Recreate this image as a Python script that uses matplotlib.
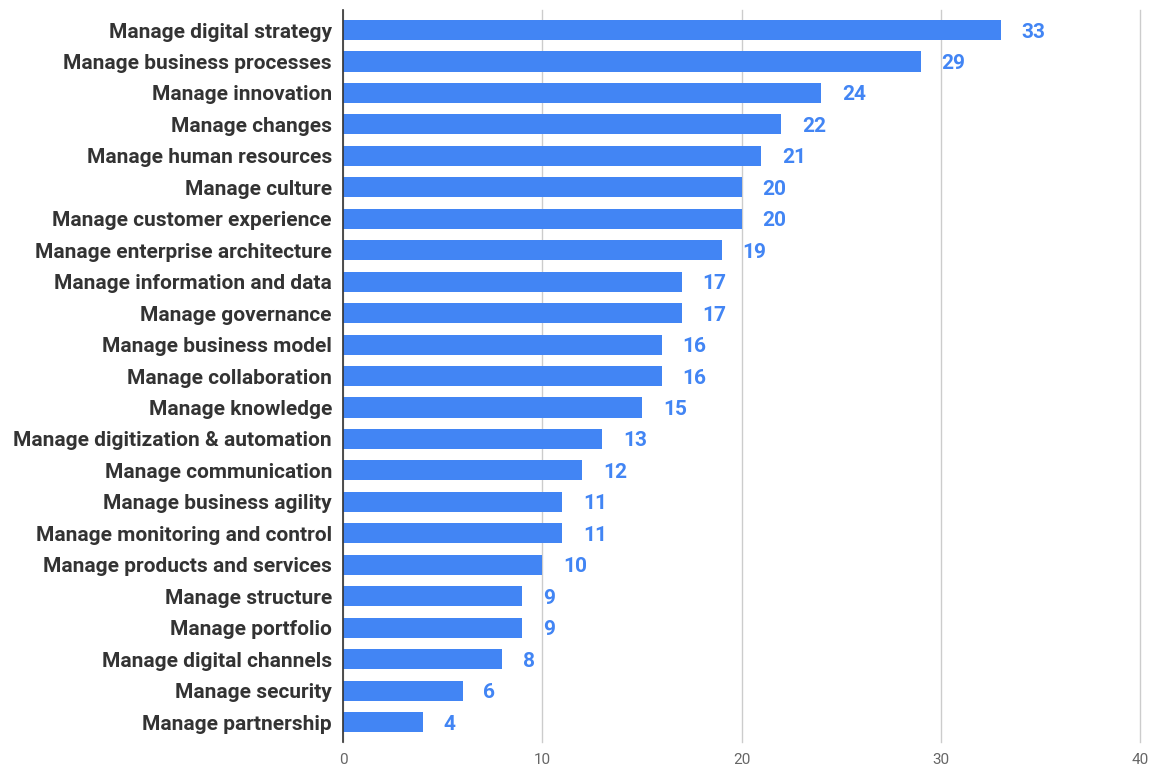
import matplotlib.pyplot as plt
import numpy as np

categories = [
    'Manage digital strategy', 'Manage business processes', 'Manage innovation',
    'Manage changes', 'Manage human resources', 'Manage culture',
    'Manage customer experience', 'Manage enterprise architecture',
    'Manage information and data', 'Manage governance', 'Manage business model',
    'Manage collaboration', 'Manage knowledge', 'Manage digitization & automation',
    'Manage communication', 'Manage business agility', 'Manage monitoring and control',
    'Manage products and services', 'Manage structure', 'Manage portfolio',
    'Manage digital channels', 'Manage security', 'Manage partnership',
]
counts = [33, 29, 24, 22, 21, 20, 20, 19, 17, 17, 16, 16, 15, 13, 12, 11, 11, 10, 9, 9, 8, 6, 4]
x_ticks = [0, 10, 20, 30, 40]

blue = '#4285F4'

fig = plt.figure(figsize=(11.55, 7.69), dpi=100)
ax = fig.add_axes([0.297, 0.035, 0.690, 0.952])

y = np.arange(len(categories))
ax.barh(y, counts, height=0.64, color=blue, zorder=3)

# value labels just past the bar ends
for yi, v in zip(y, counts):
    ax.text(v + 1.05, yi, str(v), va='center_baseline', ha='left', color=blue,
            fontsize=15, fontweight='bold', family='Roboto')

ax.set_yticks(y)
ax.set_yticklabels(categories, fontsize=15, fontweight='bold', family='Roboto',
                   color='#333333')
ax.set_ylim(len(categories) - 1 + 0.636, -0.636)

ax.set_xlim(0, 40)
ax.set_xticks(x_ticks)
ax.set_xticklabels([str(t) for t in x_ticks], fontsize=11, family='Roboto',
                   color='#666666')
ax.tick_params(axis='both', length=0)
ax.tick_params(axis='y', pad=8)
ax.tick_params(axis='x', pad=8)

ax.grid(True, axis='x', color='#cccccc', linewidth=1, zorder=0)
for gl in ax.get_xgridlines():
    gl.set_clip_on(False)
for s in ['top', 'right', 'bottom']:
    ax.spines[s].set_visible(False)
ax.spines['left'].set_color('#333333')
ax.spines['left'].set_linewidth(1.2)
ax.spines['left'].set_zorder(4)

fig.savefig('out.png', dpi=100)
